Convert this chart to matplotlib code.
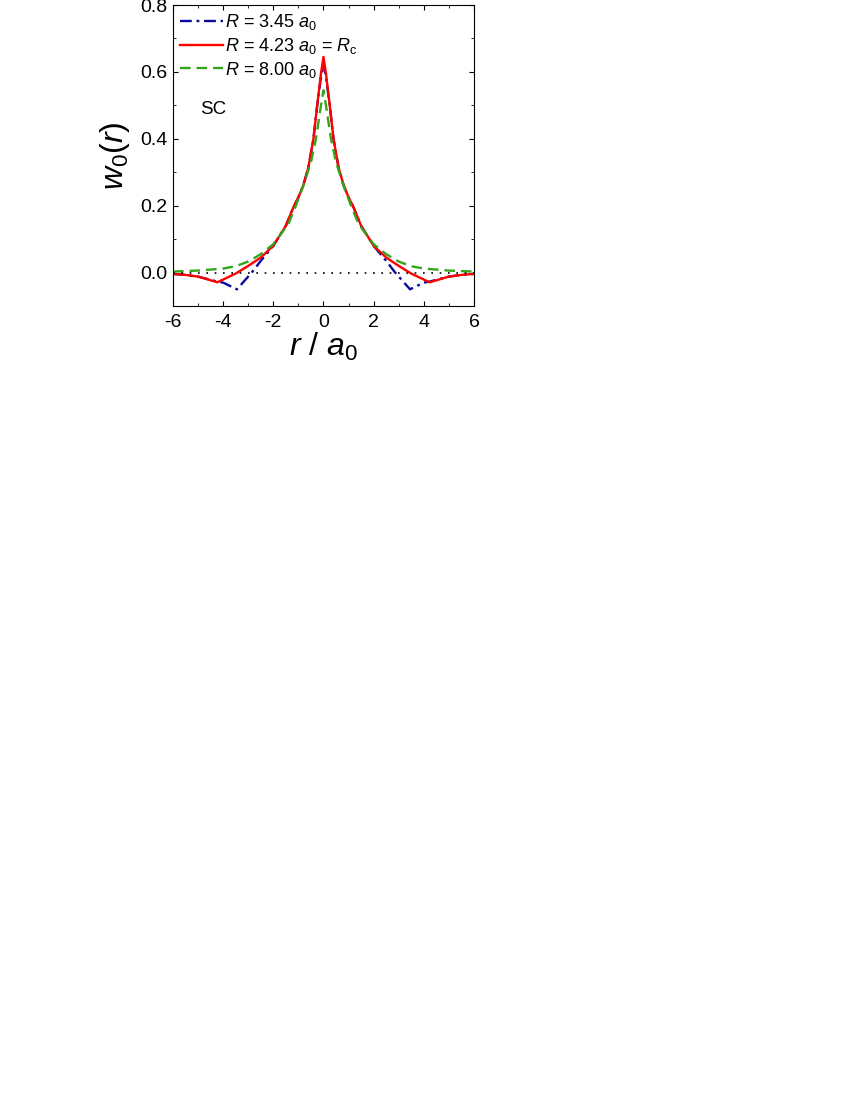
# Plot w0(r) for SC lattice

import matplotlib
matplotlib.use('Agg')
import matplotlib.pyplot as plt
from matplotlib.ticker import MultipleLocator

plt.rcParams['font.family'] = ['Liberation Sans', 'DejaVu Sans']
plt.rcParams['mathtext.fontset'] = 'custom'
plt.rcParams['mathtext.rm'] = 'Liberation Sans'
plt.rcParams['mathtext.it'] = 'Liberation Sans:italic'
plt.rcParams['axes.unicode_minus'] = False

# =========================================
# Data (right half, mirrored)

r_red = [0.0, 0.1, 0.25, 0.4, 0.6, 0.8, 1.0, 1.2, 1.5, 2.0, 2.5, 3.0, 3.5, 4.23, 5.0, 5.5, 6.0]
w_red = [0.645, 0.595, 0.50, 0.40, 0.315, 0.262, 0.225, 0.195, 0.14, 0.08, 0.045, 0.02, -0.003, -0.029, -0.012, -0.007, -0.004]

r_blue = [0.0, 0.1, 0.25, 0.4, 0.6, 0.8, 1.0, 1.2, 1.5, 2.0, 2.2, 2.5, 2.86, 3.45, 4.0, 4.23, 5.0, 5.5, 6.0]
w_blue = [0.625, 0.585, 0.50, 0.40, 0.315, 0.262, 0.225, 0.195, 0.14, 0.08, 0.062, 0.035, 0.0, -0.05, -0.03, -0.027, -0.012, -0.007, -0.004]

r_green = [0.0, 0.1, 0.3, 0.5, 0.8, 1.1, 1.4, 2.0, 2.5, 3.0, 3.5, 4.0, 5.0, 6.0]
w_green = [0.545, 0.50, 0.40, 0.33, 0.26, 0.20, 0.145, 0.085, 0.055, 0.033, 0.019, 0.012, 0.006, 0.003]


def mirror(r, w):
    x = [-v for v in r[::-1]] + r[1:]
    y = w[::-1] + w[1:]
    return x, y


# =========================================
# Plot Chart

fig = plt.figure(figsize=(8.5, 11), dpi=100)
ax = fig.add_axes([0.2035, 0.7218, 0.3541, 0.2736])

x, y = mirror(r_blue, w_blue)
ax.plot(x, y, color='#0a0a9c', lw=1.7, dashes=(5, 2, 1.2, 2),
        label='$R$ = 3.45 $a_0$')
x, y = mirror(r_red, w_red)
ax.plot(x, y, color='#ff0000', lw=1.7, label=r'$R$ = 4.23 $a_0$ = $R_\mathrm{c}$')
x, y = mirror(r_green, w_green)
ax.plot(x, y, color='#33a51a', lw=1.7, dashes=(4.5, 2.5),
        label='$R$ = 8.00 $a_0$')

ax.axhline(0, color='black', lw=1.2, linestyle=(0, (1, 4)))

ax.set_xlim(-6, 6)
ax.set_ylim(-0.1, 0.8)
ax.xaxis.set_major_locator(MultipleLocator(2))
ax.xaxis.set_minor_locator(MultipleLocator(1))
ax.yaxis.set_major_locator(MultipleLocator(0.2))
ax.yaxis.set_minor_locator(MultipleLocator(0.1))
ax.tick_params(which='both', direction='in', top=True, right=True, labelsize=14)
ax.tick_params(which='major', length=3.5)
ax.tick_params(which='minor', length=2)
ax.tick_params(axis='x', pad=6)
ax.tick_params(axis='y', pad=4)
ax.set_xticks([-6, -4, -2, 0, 2, 4, 6])
ax.set_xticklabels(['-6', '-4', '-2', '0', '2', '4', '6'])

ax.text(-4.9, 0.475, 'SC', fontsize=13.5)

ax.set_xlabel('$r$ / $a_0$', fontsize=23, labelpad=0)
ax.set_ylabel('$w_0(r)$', fontsize=23, labelpad=6)

ax.legend(loc='upper left', frameon=False, fontsize=13, handlelength=2.35,
          handletextpad=0.15, labelspacing=0.2, borderaxespad=0.35,
          borderpad=0.05)

plt.savefig('out.png', dpi=100)
